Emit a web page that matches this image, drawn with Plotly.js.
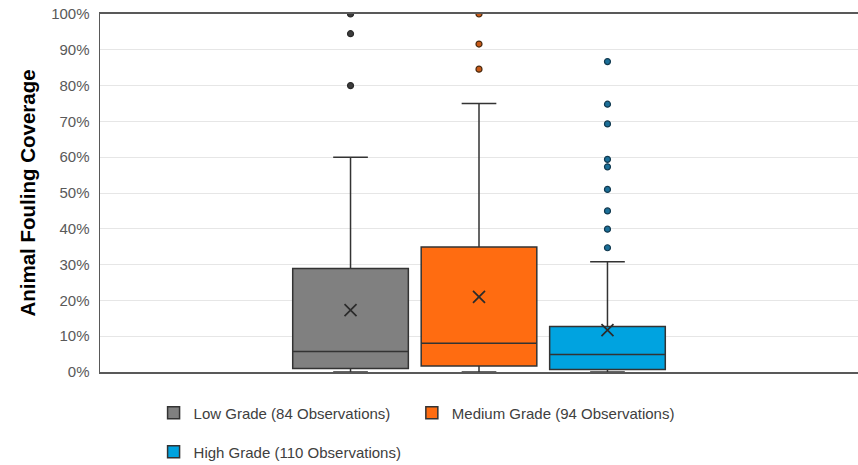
<!DOCTYPE html>
<html>
<head>
<meta charset="utf-8">
<script src="https://cdn.plot.ly/plotly-3.0.1.min.js"></script>
<style>html,body{margin:0;padding:0;background:#fff;}</style>
</head>
<body>
<div id="chart" style="width:858px;height:465px;"></div>
<script>
// Data
const categories = ['Low Grade (84 Observations)', 'Medium Grade (94 Observations)', 'High Grade (110 Observations)'];
const q1Values = [0.010, 0.017, 0.007];
const medianValues = [0.057, 0.080, 0.049];
const q3Values = [0.289, 0.349, 0.127];
const lowerWhisker = [0, 0, 0];
const upperWhisker = [0.60, 0.75, 0.308];
const meanValues = [0.173, 0.210, 0.117];
const outliersLow = [1.00, 0.945, 0.80];
const outliersMedium = [1.00, 0.916, 0.846];
const outliersHigh = [0.867, 0.748, 0.693, 0.594, 0.573, 0.510, 0.450, 0.399, 0.347];

const outlierSets = [outliersLow, outliersMedium, outliersHigh];
const fillColors = ['#808080', '#ff6c11', '#00a3e0'];
const dotColors = ['#3c3c3c', '#c85a18', '#1b6f98'];
const dotLines = ['#2a2a2a', '#4a2a10', '#123a50'];
const legendIds = ['legend', 'legend3', 'legend2'];

const traces = [];
categories.forEach((name, i) => {
  traces.push({
    type: 'box',
    name: name,
    x: [i],
    q1: [q1Values[i]],
    median: [medianValues[i]],
    q3: [q3Values[i]],
    lowerfence: [lowerWhisker[i]],
    upperfence: [upperWhisker[i]],
    boxpoints: false,
    width: 0.9,
    whiskerwidth: 0.3,
    fillcolor: fillColors[i],
    line: {color: '#333333', width: 1.5},
    legend: legendIds[i],
    hoverinfo: 'y'
  });
});
categories.forEach((name, i) => {
  traces.push({
    type: 'scatter', mode: 'markers', showlegend: false,
    x: outlierSets[i].map(() => i), y: outlierSets[i],
    marker: {size: 6, color: dotColors[i], line: {color: dotLines[i], width: 1.2}},
    hoverinfo: 'y'
  });
  traces.push({
    type: 'scatter', mode: 'markers', showlegend: false,
    x: [i], y: [meanValues[i]],
    marker: {symbol: 'x-thin-open', size: 12, color: '#2b2b2b', line: {color: '#2b2b2b', width: 1.7}},
    hoverinfo: 'y'
  });
});

const font = 'Liberation Sans, Arial, sans-serif';
const legendBase = {
  orientation: 'h', xref: 'container', yref: 'container',
  xanchor: 'left', yanchor: 'middle',
  font: {family: font, size: 15, color: '#404040'}, bgcolor: 'rgba(0,0,0,0)'
};
const layout = {
  width: 858, height: 465,
  margin: {l: 100, r: 0, t: 14, b: 93},
  paper_bgcolor: '#ffffff', plot_bgcolor: '#ffffff',
  font: {family: font},
  xaxis: {
    range: [-1.95, 3.95], showgrid: false, zeroline: false, showticklabels: false,
    ticks: '', showline: true, mirror: true, linecolor: '#595959', linewidth: 2, fixedrange: true
  },
  yaxis: {
    range: [0, 1], dtick: 0.1, tickformat: '.0%',
    gridcolor: '#e6e6e6', gridwidth: 1, zeroline: false,
    showline: true, linecolor: '#595959', linewidth: 1.5,
    ticks: '', ticklabelstandoff: 6,
    tickfont: {family: font, size: 15, color: '#595959'},
    title: {text: 'Animal Fouling Coverage', font: {family: font, size: 20.5, color: '#000000', weight: 'bold'}, standoff: 10},
    fixedrange: true
  },
  showlegend: true,
  legend: Object.assign({}, legendBase, {x: 0.179, y: 0.112}),
  legend3: Object.assign({}, legendBase, {x: 0.48, y: 0.112}),
  legend2: Object.assign({}, legendBase, {x: 0.179, y: 0.028})
};

Plotly.newPlot('chart', traces, layout, {displayModeBar: false, staticPlot: true});
</script>
</body>
</html>
